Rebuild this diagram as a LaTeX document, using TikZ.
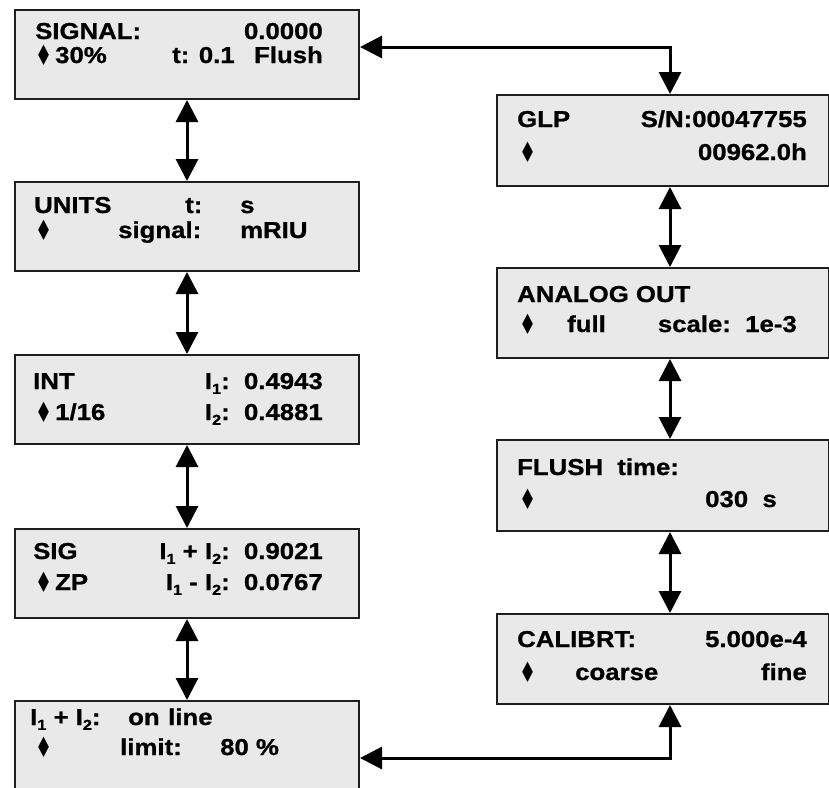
\documentclass[tikz,border=0pt]{standalone}
\usepackage{fontspec}
\usetikzlibrary{arrows.meta}
\newfontfamily\lcdfont{Liberation Sans}[UprightFont={* Bold}, FakeStretch=1.12, FakeBold=0.9]
\newfontfamily\diafont{DejaVu Sans}
\newcommand\lsub[1]{\raisebox{-0.4ex}{\fontsize{14.5}{15}\selectfont #1}}
\newcommand\dmd{\scalebox{0.95}[1.4]{♦}}
\definecolor{boxfill}{RGB}{233,233,233}
\definecolor{boxline}{RGB}{30,30,30}
\tikzset{
  x=1pt, y=-1pt,
  >={Triangle[length=22pt,width=22pt]},
  lcdbox/.style={draw=boxline, line width=2pt, fill=boxfill, anchor=north west, inner sep=0pt},
  leftbox/.style={lcdbox, minimum width=344pt},
  rightbox/.style={lcdbox, minimum width=332pt},
  txtl/.style={anchor=base west, inner sep=0pt, font=\lcdfont\fontsize{23}{24}\selectfont},
  txtr/.style={anchor=base east, inner sep=0pt, font=\lcdfont\fontsize{23}{24}\selectfont},
  dia/.style={anchor=base west, inner sep=0pt, yshift=-2.5pt, font=\diafont\fontsize{20}{21}\selectfont},
  link/.style={line width=3pt, <->, line join=miter},
}
\begin{document}
\begin{tikzpicture}
\useasboundingbox (0,0) rectangle (829,787);
% left column boxes
\node[leftbox, minimum height=89pt] (signal) at (14,9) {};
\node[leftbox, minimum height=89pt] (units) at (14,181) {};
\node[leftbox, minimum height=89pt] (int) at (14,354) {};
\node[leftbox, minimum height=89pt] (sig) at (14,528) {};
\node[leftbox, minimum height=95pt] (lim) at (14,700) {};
% right column boxes
\node[rightbox, minimum height=91pt] (glp) at (496,94) {};
\node[rightbox, minimum height=90pt] (analog) at (496,267) {};
\node[rightbox, minimum height=91pt] (flush) at (496,439) {};
\node[rightbox, minimum height=90pt] (calib) at (496,613) {};

% SIGNAL
\node[txtl] (s1) at (35,39) {SIGNAL:};
\node[txtr] (s2) at (323,39) {0.0000};
\node[dia] (s3) at (35,63) {\dmd};
\node[txtl] (s4) at (55,63) {30\%};
\node[txtl] (s5) at (172,63) {t: 0.1};
\node[txtr] (s6) at (323,63) {Flush};
% UNITS
\node[txtl] (u1) at (34,213) {UNITS};
\node[txtl] (u2) at (185,213) {t:};
\node[txtl] (u3) at (240,213) {s};
\node[dia] (u4) at (35,238) {\dmd};
\node[txtl] (u5) at (118,238) {signal:};
\node[txtl] (u6) at (240,238) {mRIU};
% INT
\node[txtl] (i1) at (33,389) {INT};
\node[txtr] (i2) at (323,389) {I\lsub{1}:\ \ 0.4943};
\node[dia] (i3) at (35,420) {\dmd};
\node[txtl] (i4) at (55,420) {1/16};
\node[txtr] (i5) at (323,420) {I\lsub{2}:\ \ 0.4881};
% SIG
\node[txtl] (g1) at (33,559) {SIG};
\node[txtr] (g2) at (323,559) {I\lsub{1} + I\lsub{2}:\ \ 0.9021};
\node[dia] (g3) at (35,590) {\dmd};
\node[txtl] (g4) at (55,590) {ZP};
\node[txtr] (g5) at (323,590) {I\lsub{1} - I\lsub{2}:\ \ 0.0767};
% limit
\node[txtl] (l1) at (30,725) {I\lsub{1} + I\lsub{2}:};
\node[txtl] (l2) at (128,725) {on};
\node[txtl] (l3) at (168,725) {line};
\node[dia] (l4) at (35,755) {\dmd};
\node[txtl] (l5) at (120,755) {limit:};
\node[txtl] (l6) at (220,755) {80 \%};
% GLP
\node[txtl] (p1) at (517,127) {GLP};
\node[txtr] (p2) at (807,127) {S/N:00047755};
\node[dia] (p3) at (519,160) {\dmd};
\node[txtr] (p4) at (807,160) {00962.0h};
% ANALOG OUT
\node[txtl] (a1) at (517,302) {ANALOG OUT};
\node[dia] (a2) at (519,332) {\dmd};
\node[txtl] (a3) at (567,332) {full};
\node[txtr] (a4) at (797,332) {scale:\ \ 1e-3};
% FLUSH
\node[txtl] (f1) at (517,475) {FLUSH\ \ time:};
\node[dia] (f2) at (519,507) {\dmd};
\node[txtl] (f3) at (705,507) {030\ \ s};
% CALIBRT
\node[txtl] (c1) at (517,647) {CALIBRT:};
\node[txtr] (c2) at (807,647) {5.000e-4};
\node[dia] (c3) at (519,680) {\dmd};
\node[txtl] (c4) at (575,680) {coarse};
\node[txtr] (c5) at (807,680) {fine};

% connectors
\coordinate (tr) at (670,47);
\coordinate (br) at (670,758);
\draw[link] (signal.south) -- (units.north);
\draw[link] (units.south) -- (int.north);
\draw[link] (int.south) -- (sig.north);
\draw[link] (sig.south) -- (lim.north);
\draw[link] (glp.south -| tr) -- (analog.north -| tr);
\draw[link] (analog.south -| tr) -- (flush.north -| tr);
\draw[link] (flush.south -| tr) -- (calib.north -| tr);
\draw[link] (signal.east |- tr) -- (tr) -- (glp.north -| tr);
\draw[link] (lim.east |- br) -- (br) -- (calib.south -| br);
\end{tikzpicture}
\end{document}
